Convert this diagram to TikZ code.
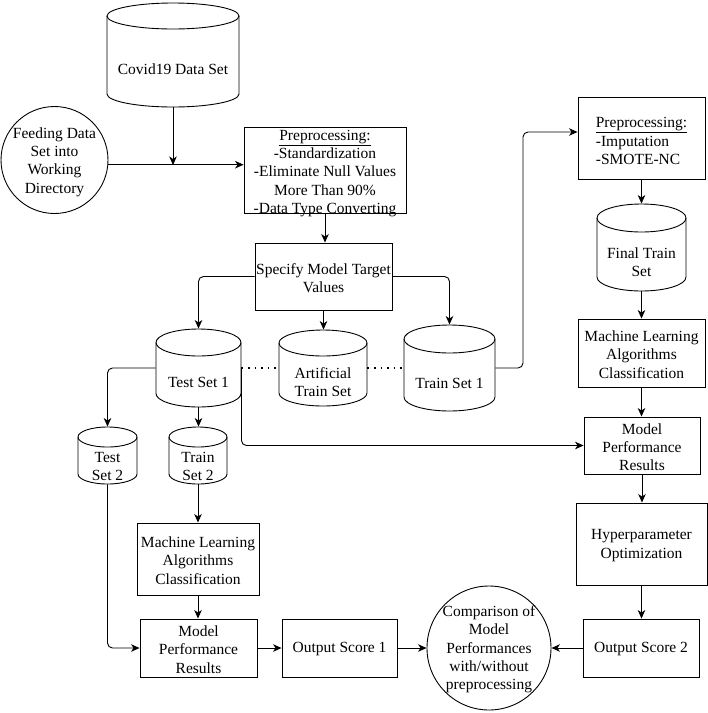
\documentclass[tikz,border=0pt]{standalone}
\usepackage{fontspec}
\setmainfont{Liberation Serif}
\usetikzlibrary{arrows.meta,fit}

\newcommand\mycyl[7]{%
  \pgfmathsetmacro\mycx{(#2+#4)/2}%
  \pgfmathsetmacro\myrx{(#4-#2)/2}%
  \node[fit={(#2,-#3) (#4,-#5)}, inner sep=0pt] (#1) {};
  \draw (#2,-#3-#6) -- (#2,-#5+#6) arc[start angle=180,end angle=360,x radius=\myrx pt,y radius=#6pt] -- (#4,-#3-#6);
  \draw (\mycx,-#3-#6) ellipse [x radius=\myrx pt,y radius=#6pt];
  \node[txt] (#1t) at (\mycx,{-(#3+2*#6+#5)/2-1}) {#7};
}
\newcommand\mybox[6]{%
  \node[draw, fit={(#2,-#3) (#4,-#5)}, inner sep=0pt] (#1) {};
  \node[txt] (#1t) at ([yshift=-1.5pt]#1.center) {#6};
}

\begin{document}
\begin{tikzpicture}[x=1pt,y=1pt, line width=0.9pt,
  >={Stealth[length=8.5pt,width=7.5pt,inset=2.5pt]},
  txt/.style={align=center, font=\fontsize{15.5}{18.3}\selectfont, inner sep=0pt},
  conn/.style={->, rounded corners=5pt},
  link/.style={dash pattern=on 1.6pt off 5pt, line width=1.3pt}]
\useasboundingbox (0,0) rectangle (708,-713);

% cylinders
\mycyl{cov}{107}{3}{239}{107}{13}{Covid19 Data Set}
\mycyl{tst1}{156}{329}{241}{407}{13.5}{Test Set 1}
\mycyl{art}{279}{330}{367}{406}{13}{Artificial\\Train Set}
\mycyl{trn1}{404}{325}{495}{411}{14}{Train Set 1}
\mycyl{fin}{597}{204}{686}{291}{14}{Final Train\\Set}
\mycyl{tst2}{78}{427}{137}{484}{10}{Test\\Set 2}
\mycyl{trn2}{169}{427}{227}{484}{10}{Train\\Set 2}

% boxes
\node[draw, fit={(244,-127) (406,-213)}, inner sep=0pt] (pre1) {};
\node[txt] (pre1t) at ([yshift=-3.5pt]pre1.center) {\underline{Preprocessing:}\\-Standardization\\-Eliminate Null Values\\More Than 90\%\\-Data Type Converting};
\mybox{spec}{255}{243}{392}{310}{Specify Model Target\\Values}
\node[draw, fit={(578,-97) (705,-179)}, inner sep=0pt] (pre2) {};
\node[txt, align=left] (pre2t) at ([yshift=-3pt]pre2.center) {\underline{Preprocessing:}\\-Imputation\\-SMOTE-NC};
\mybox{ml2}{578}{319}{705}{387}{Machine Learning\\Algorithms\\Classification}
\mybox{mp2}{584}{417}{700}{474}{Model\\Performance\\Results}
\mybox{hyp}{576}{503}{707}{585}{Hyperparameter\\Optimization}
\mybox{out2}{583}{619}{699}{677}{Output Score 2}
\mybox{out1}{282}{619}{397}{677}{Output Score 1}
\mybox{mp1}{140}{619}{257}{677}{Model\\Performance\\Results}
\mybox{ml1}{137}{523}{259}{595}{Machine Learning\\Algorithms\\Classification}

% circles
\node[draw, circle, minimum size=107pt, inner sep=0pt] (feed) at (54.5,-160) {};
\node[txt] (feedt) at ([yshift=-2pt]feed.center) {Feeding Data\\Set into\\Working\\Directory};
\node[draw, circle, minimum size=124pt, inner sep=0pt] (cmp) at (489,-648) {};
\node[txt] (cmpt) at ([yshift=-1.5pt]cmp.center) {Comparison of\\Model\\Performances\\with/without\\preprocessing};

% connectors
\coordinate (j1) at (173,-165);
\draw[->] (cov.south) -- (j1);
\draw[->] (feed.-5.4) -- (feed.-5.4 -| pre1.west);
\draw[->] (pre1.south) -- (pre1.south |- spec.north);
\draw[conn] (spec.west) -| (tst1.north);
\draw[->] (spec.south) -- (spec.south |- art.north);
\draw[conn] (spec.east) -| (trn1.north);
\draw[link] (tst1.east) -- (art.west);
\draw[link] (art.east) -- (trn1.west);
\coordinate (c1) at (523,-132);
\draw[conn] (trn1.east) -| (c1) -- (c1 -| pre2.west);
\draw[->] (pre2.south) -- (pre2.south |- fin.north);
\draw[->] (fin.south) -- (fin.south |- ml2.north);
\draw[->] (ml2.south) -- (ml2.south |- mp2.north);
\draw[conn] (tst1.east) |- (mp2.west);
\draw[conn] (tst1.west) -| (tst2.north);
\draw[->] (tst1.south) -- (tst1.south |- trn2.north);
\draw[conn] (tst2.south) |- (mp1.west);
\draw[->] (trn2.south) -- (trn2.south |- ml1.north);
\draw[->] (ml1.south) -- (ml1.south |- mp1.north);
\draw[->] (mp1.east) -- (out1.west);
\draw[->] (out1.east) -- (cmp.west);
\draw[->] (out2.west) -- (cmp.east);
\draw[->] (mp2.south) -- (mp2.south |- hyp.north);
\draw[->] (hyp.south) -- (hyp.south |- out2.north);
\end{tikzpicture}
\end{document}
